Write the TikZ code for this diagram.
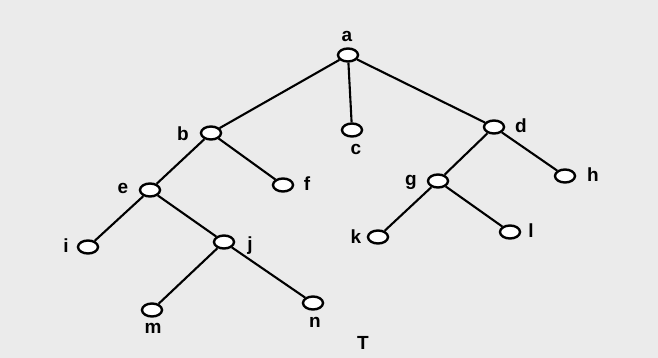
\documentclass[tikz,border=0pt]{standalone}
\usepackage{fontspec}
\setmainfont{Liberation Sans}
\usetikzlibrary{shapes.geometric}
\begin{document}
\begin{tikzpicture}[x=1pt,y=-1pt,
 vert/.style={ellipse,draw,line width=2.4pt,fill=white,minimum width=20pt,minimum height=13pt,inner sep=0pt},
 lbl/.style={font=\fontsize{19}{19}\selectfont\bfseries,inner sep=0pt},
 edge/.style={line width=2.1pt}]
\fill[black!8] (0,0) rectangle (658,358);
\useasboundingbox (0,0) rectangle (658,358);
% vertices
\node[vert] (a) at (348,55) {};
\node[vert] (b) at (211,133) {};
\node[vert] (c) at (352,130) {};
\node[vert] (d) at (494,127) {};
\node[vert] (e) at (150,190) {};
\node[vert] (f) at (283,185) {};
\node[vert] (g) at (438,181) {};
\node[vert] (h) at (565,176) {};
\node[vert] (i) at (88,247) {};
\node[vert] (j) at (224,242) {};
\node[vert] (k) at (378,237) {};
\node[vert] (l) at (510,232) {};
\node[vert] (m) at (152,310) {};
\node[vert] (n) at (313,303) {};
% edges
\draw[edge] (a) -- (b);
\draw[edge] (a) -- (c);
\draw[edge] (a) -- (d);
\draw[edge] (b) -- (e);
\draw[edge] (b) -- (f);
\draw[edge] (d) -- (g);
\draw[edge] (d) -- (h);
\draw[edge] (e) -- (i);
\draw[edge] (e) -- (j);
\draw[edge] (g) -- (k);
\draw[edge] (g) -- (l);
\draw[edge] (j) -- (m);
\draw[edge] (j) -- (n);
% labels
\node[lbl] (la) at (347,36) {a};
\node[lbl] (lb) at (183,134) {b};
\node[lbl] (lc) at (356,149) {c};
\node[lbl] (ld) at (521,126) {d};
\node[lbl] (le) at (123,188) {e};
\node[lbl] (lf) at (307,184) {f};
\node[lbl] (lg) at (411,182) {g};
\node[lbl] (lh) at (593,175) {h};
\node[lbl] (li) at (66,246) {i};
\node[lbl] (lj) at (250,246) {j};
\node[lbl] (lk) at (356,237) {k};
\node[lbl] (ll) at (531,231) {l};
\node[lbl] (lm) at (153,328) {m};
\node[lbl] (ln) at (315,322) {n};
\node[lbl] (T) at (363,343) {T};
\end{tikzpicture}
\end{document}
